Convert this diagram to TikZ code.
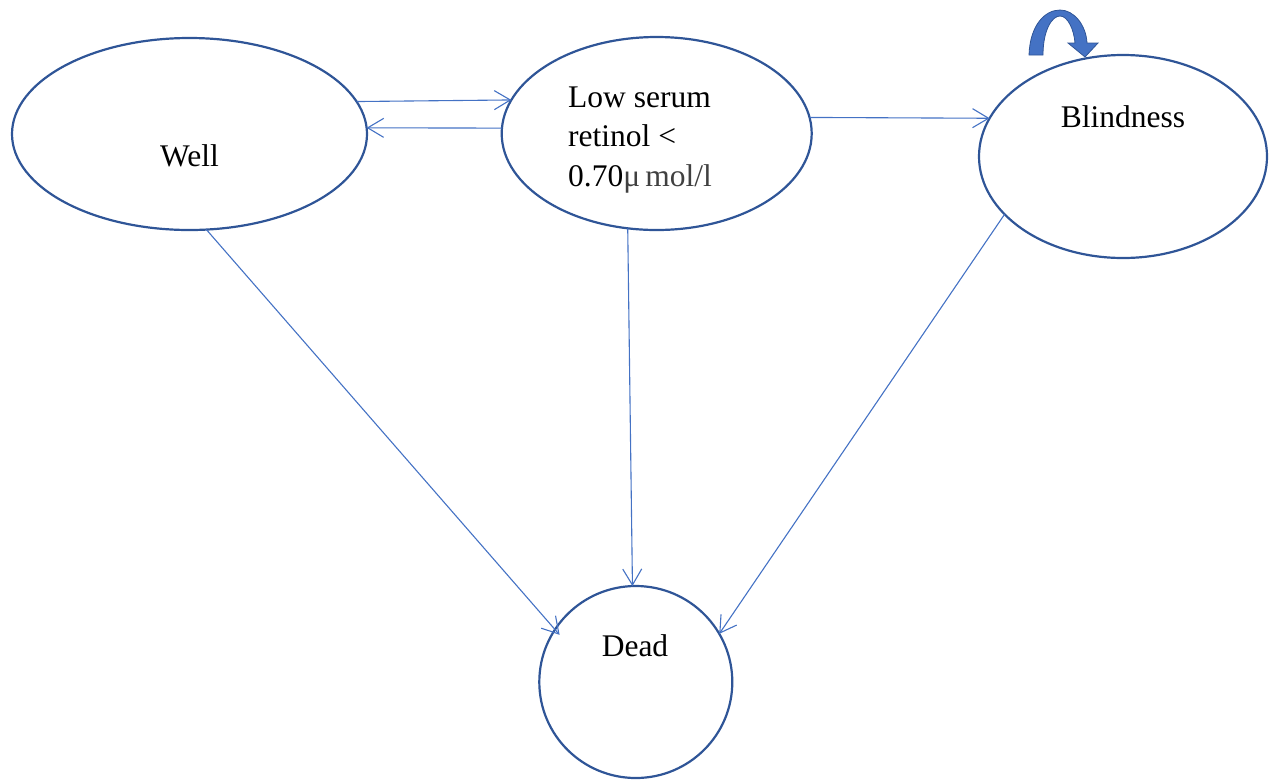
\documentclass[tikz,border=0pt]{standalone}
\usepackage{fontspec}
\setmainfont{Liberation Serif}
\usetikzlibrary{shapes.geometric,arrows.meta}
\definecolor{edgeblue}{HTML}{2F5597}
\definecolor{linkblue}{HTML}{4472C4}
\definecolor{unitgray}{HTML}{404040}
\begin{document}
\begin{tikzpicture}[x=1pt,y=-1pt,
  state/.style={ellipse,draw=edgeblue,line width=2.2pt,inner sep=0pt,outer sep=0pt},
  lbl/.style={font=\fontsize{31.5}{40}\selectfont,inner sep=0pt,anchor=base},
  link/.style={draw=linkblue,line width=1.1pt,-{Straight Barb[length=16pt,width=19pt]}},
  loopshape/.style={fill=linkblue,draw=edgeblue,line width=0.8pt}]
\useasboundingbox (0,0) rectangle (1279,780);
% states
\node[state,minimum width=355pt,minimum height=192pt] (well) at (189.5,134) {};
\node[state,minimum width=310pt,minimum height=193pt] (low) at (656.7,133.5) {};
\node[state,minimum width=288pt,minimum height=203pt] (blind) at (1123,156.5) {};
\node[state,minimum width=193pt,minimum height=192pt] (dead) at (635.8,682) {};
% labels
\node[lbl] (wellT) at (189.5,166.7) {Well};
\node[lbl,anchor=base west] (lowA) at (568,107) {Low serum};
\node[lbl,anchor=base west] (lowB) at (568,146.7) {retinol <};
\node[lbl,anchor=base west] (lowC) at (568,186.7) {0.70\textcolor{unitgray}{μ\,mol/l}};
\node[lbl] (blindT) at (1123,127.3) {Blindness};
\node[lbl] (deadT) at (635,656) {Dead};
% connectors
\draw[link] (well.11) -- (low.167);
\draw[link] (low.178) -- (well.2);
\draw[link] (low.6) -- (blind.164);
\draw[link,shorten >=-7pt] (well.-80) -- (dead.147);
\draw[link] (low.-107) -- (dead.92);
\draw[link] (blind.-154) -- (dead.30);
% self-loop block arrow
\path[loopshape] (1029,55) .. controls (1030,25) and (1045,10) .. (1060,10)
  .. controls (1074,10) and (1086,25) .. (1087,43) -- (1098,43) -- (1085,57)
  -- (1068,43) -- (1075,43) .. controls (1074,30) and (1068,16) .. (1060,16)
  .. controls (1052,16) and (1043,30) .. (1043,55) -- cycle;
\end{tikzpicture}
\end{document}
